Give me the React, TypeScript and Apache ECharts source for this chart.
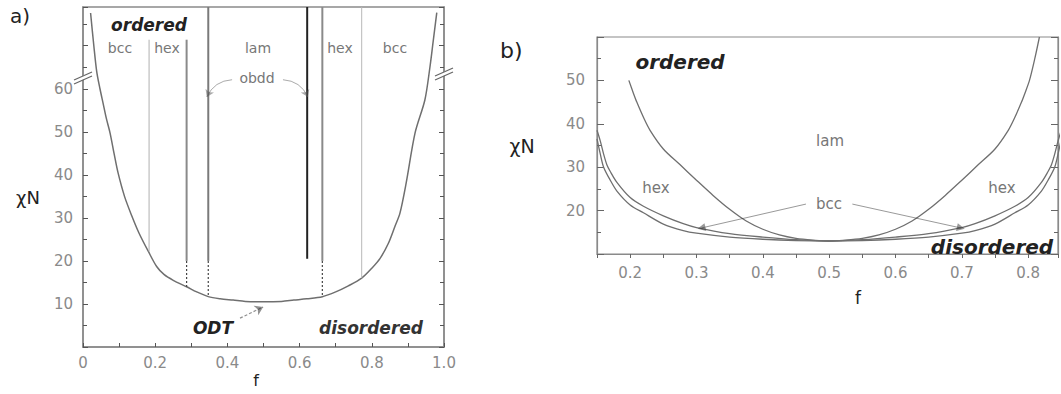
import React, { useEffect, useRef } from "react";
import * as echarts from "echarts";

// ---------- Panel a: mean-field phase diagram ----------
const odtAF = [
  0.021, 0.03, 0.038, 0.047, 0.056, 0.065, 0.075, 0.086, 0.097, 0.115, 0.135, 0.155, 0.181, 0.204,
  0.225, 0.25, 0.287, 0.315, 0.347, 0.38, 0.416, 0.45, 0.5, 0.55, 0.584, 0.62, 0.663, 0.7, 0.735,
  0.772, 0.8, 0.823, 0.846, 0.864, 0.878, 0.895, 0.92, 0.947, 0.961, 0.97, 0.98,
];
const odtAChi = [
  77.6, 70, 64, 60, 56.5, 53, 49.7, 45, 40.5, 35, 30.5, 26.5, 22.2, 18.7, 16.8, 15.5, 14, 12.8, 11.7,
  11.2, 10.9, 10.6, 10.5, 10.6, 10.9, 11.2, 11.7, 12.8, 14.2, 16, 18.3, 20.6, 24.1, 28, 31.1, 38,
  49.8, 57.4, 65, 71, 77.7,
];
// phase boundary verticals: f, top, end of solid part, end of dotted part (curve)
const boundF = [0.183, 0.287, 0.347, 0.621, 0.663, 0.772];
const boundTop = [71.4, 71.4, 79, 79, 79, 79];
const boundSolidEnd = [22.2, 20, 20, 20.5, 20, 16];
const boundCurveChi = [22.2, 14, 11.7, 20.5, 11.7, 16];
const boundColor = ["#b0b0b0", "#8a8a8a", "#7a7a7a", "#222222", "#8a8a8a", "#b8b8b8"];
const boundWidth = [1, 2, 2, 2, 2, 1];

const xTicksA = [0, 0.2, 0.4, 0.6, 0.8, 1.0];
const xTickLabelsA = ["0", "0.2", "0.4", "0.6", "0.8", "1.0"];
const yTickLabelsA = [10, 20, 30, 40, 50, 60];

// obdd arrows (from label to boundary line), ODT arrow
const obddFrom = [[0.413, 62.1], [0.554, 62.1]];
const obddTo = [[0.343, 58.1], [0.623, 58.1]];
const odtArrowFrom = [0.435, 6.7];
const odtArrowTo = [0.499, 9.3];

// ---------- Panel b: fluctuation-corrected phase diagram ----------
const odtBF = [
  0.15, 0.155, 0.16, 0.17, 0.18, 0.2, 0.22, 0.25, 0.28, 0.3, 0.35, 0.4, 0.45, 0.5, 0.55, 0.6, 0.65,
  0.7, 0.72, 0.75, 0.78, 0.8, 0.82, 0.83, 0.84, 0.845, 0.85,
];
const odtBChi = [
  36.5, 33, 30, 27, 24.5, 21.3, 19.5, 16.9, 15.4, 14.8, 13.9, 13.4, 13.1, 13, 13.1, 13.4, 13.9, 14.8,
  15.4, 16.9, 19.5, 21.3, 24.5, 27, 30, 33, 36.5,
];
const bccHexF = [
  0.15, 0.155, 0.16, 0.165, 0.17, 0.18, 0.2, 0.22, 0.25, 0.28, 0.3, 0.35, 0.4, 0.45, 0.5, 0.55, 0.6,
  0.65, 0.7, 0.72, 0.75, 0.78, 0.8, 0.82, 0.83, 0.835, 0.84, 0.845, 0.85,
];
const bccHexChi = [
  38.5, 36, 33, 30.5, 29, 26.5, 23, 21, 18.8, 17, 16.1, 14.7, 13.9, 13.3, 13, 13.3, 13.9, 14.7, 16.1,
  17, 18.8, 21, 23, 26.5, 29, 30.5, 33, 36, 38.5,
];
const hexLamLeftF = [
  0.198, 0.205, 0.21, 0.22, 0.23, 0.25, 0.275, 0.3, 0.325, 0.35, 0.375, 0.4, 0.425, 0.45, 0.475, 0.5,
];
const hexLamLeftChi = [50, 47, 45, 41.5, 38.5, 34.2, 30.6, 27, 23.5, 20.3, 17.6, 15.7, 14.4, 13.6, 13.2, 13];
const hexLamRightF = [
  0.5, 0.525, 0.55, 0.575, 0.6, 0.625, 0.65, 0.675, 0.7, 0.725, 0.75, 0.77, 0.78, 0.79, 0.795, 0.802,
  0.81, 0.817,
];
const hexLamRightChi = [
  13, 13.2, 13.6, 14.4, 15.7, 17.6, 20.3, 23.5, 27, 30.6, 34.2, 38.5, 41.5, 45, 47, 50, 55, 60,
];

const yTickLabelsB = [20, 30, 40, 50];
const bccFrom = [[0.465, 21.5], [0.535, 21.5]];
const bccTo = [[0.3075, 16], [0.6985, 16]];

const FONT = "DejaVu Sans";
const zip = (xs: number[], ys: number[]) => xs.map((x, i) => [x, ys[i]]);

export default function App() {
  const ref = useRef<HTMLDivElement>(null);
  useEffect(() => {
    if (!ref.current) return;
    const chart = echarts.init(ref.current, undefined, { renderer: "svg" });

    const axisLineGray = { lineStyle: { color: "#8a8a8a", width: 1.5 } };
    const labelStyle = { color: "#8a8a8a", fontFamily: FONT, fontSize: 15 };

    const series: any[] = [];
    // panel a ODT curve
    series.push({
      type: "line",
      xAxisIndex: 0,
      yAxisIndex: 0,
      data: zip(odtAF, odtAChi),
      showSymbol: false,
      smooth: 0.3,
      lineStyle: { color: "#6f6f6f", width: 1.5 },
      z: 3,
    });
    boundF.forEach((f, i) => {
      series.push({
        type: "line",
        xAxisIndex: 0,
        yAxisIndex: 0,
        data: [[f, boundTop[i]], [f, boundSolidEnd[i]]],
        showSymbol: false,
        lineStyle: { color: boundColor[i], width: boundWidth[i] },
      });
      if (boundCurveChi[i] < boundSolidEnd[i]) {
        series.push({
          type: "line",
          xAxisIndex: 0,
          yAxisIndex: 0,
          data: [[f, boundSolidEnd[i]], [f, boundCurveChi[i]]],
          showSymbol: false,
          lineStyle: { color: "#444", width: 1.2, type: [2, 2] },
        });
      }
    });
    series.push({
      type: "lines",
      coordinateSystem: "cartesian2d",
      xAxisIndex: 0,
      yAxisIndex: 0,
      symbol: ["none", "arrow"],
      symbolSize: 7,
      lineStyle: { color: "#555", width: 1, curveness: -0.3 },
      data: [{ coords: [obddFrom[0], obddTo[0]] }],
      z: 5,
    });
    series.push({
      type: "lines",
      coordinateSystem: "cartesian2d",
      xAxisIndex: 0,
      yAxisIndex: 0,
      symbol: ["none", "arrow"],
      symbolSize: 7,
      lineStyle: { color: "#555", width: 1, curveness: 0.3 },
      data: [{ coords: [obddFrom[1], obddTo[1]] }],
      z: 5,
    });
    series.push({
      type: "lines",
      coordinateSystem: "cartesian2d",
      xAxisIndex: 0,
      yAxisIndex: 0,
      symbol: ["none", "arrow"],
      symbolSize: 8,
      lineStyle: { color: "#222", width: 1.2, type: [3, 2] },
      data: [{ coords: [odtArrowFrom, odtArrowTo] }],
      z: 5,
    });

    // panel b curves
    const bLine = (xs: number[], ys: number[]) => ({
      type: "line",
      xAxisIndex: 1,
      yAxisIndex: 2,
      data: zip(xs, ys),
      showSymbol: false,
      smooth: 0.3,
      lineStyle: { color: "#6f6f6f", width: 1.3 },
    });
    series.push(bLine(odtBF, odtBChi));
    series.push(bLine(bccHexF, bccHexChi));
    series.push(bLine(hexLamLeftF, hexLamLeftChi));
    series.push(bLine(hexLamRightF, hexLamRightChi));
    series.push({
      type: "lines",
      coordinateSystem: "cartesian2d",
      xAxisIndex: 1,
      yAxisIndex: 2,
      symbol: ["none", "triangle"],
      symbolSize: 8,
      lineStyle: { color: "#333", width: 1 },
      data: bccFrom.map((p, i) => ({ coords: [p, bccTo[i]] })),
      z: 5,
    });

    const txt = (text: string, x: number, y: number, size: number, opts: any = {}) => ({
      type: "text",
      x,
      y,
      z: 100,
      style: {
        text,
        fontFamily: FONT,
        fontSize: size,
        fill: opts.fill || "#777",
        fontWeight: opts.bold ? "bold" : "normal",
        fontStyle: opts.italic ? "italic" : "normal",
        align: opts.align || "center",
        verticalAlign: "middle",
      },
    });

    const brk = (x: number, y: number) => ({
      type: "group",
      z: 100,
      children: [
        {
          type: "polygon",
          z: 100,
          shape: { points: [[x - 6, y + 2.5], [x + 6, y - 3], [x + 6, y + 1], [x - 6, y + 6.5]] },
          style: { fill: "#fff" },
        },
        {
          type: "line",
          z: 101,
          shape: { x1: x - 9, y1: y + 4, x2: x + 9, y2: y - 4 },
          style: { stroke: "#666", lineWidth: 1.2 },
        },
        {
          type: "line",
          z: 101,
          shape: { x1: x - 9, y1: y + 8, x2: x + 9, y2: y },
          style: { stroke: "#666", lineWidth: 1.2 },
        },
      ],
    });

    chart.setOption({
      animation: false,
      backgroundColor: "#fff",
      grid: [
        { left: 83, top: 7, width: 361, height: 340, show: true, borderColor: "#8a8a8a", borderWidth: 1.5 },
        { left: 597, top: 37, width: 462, height: 217, show: true, borderColor: "#8a8a8a", borderWidth: 1.2 },
      ],
      xAxis: [
        {
          gridIndex: 0,
          type: "value",
          min: 0,
          max: 1,
          interval: 0.1,
          axisLine: axisLineGray,
          axisTick: { inside: true, length: 4, lineStyle: { color: "#555" } },
          splitLine: { show: false },
          axisLabel: {
            ...labelStyle,
            margin: 8,
            formatter: (v: number) => {
              const k = xTicksA.findIndex((t) => Math.abs(t - v) < 1e-6);
              return k >= 0 ? xTickLabelsA[k] : "";
            },
          },
        },
        {
          gridIndex: 1,
          type: "value",
          min: 0.15,
          max: 0.845,
          interval: 0.05,
          axisLine: { lineStyle: { color: "#8a8a8a", width: 1.2 } },
          axisTick: { inside: false, length: 4, lineStyle: { color: "#666" } },
          splitLine: { show: false },
          axisLabel: {
            ...labelStyle,
            margin: 11,
            formatter: (v: number) =>
              Math.abs(v * 10 - Math.round(v * 10)) < 1e-6 && v > 0.16 ? v.toFixed(1) : "",
          },
        },
      ],
      yAxis: [
        {
          gridIndex: 0,
          type: "value",
          min: 0,
          max: 79,
          interval: 10,
          position: "left",
          axisLine: axisLineGray,
          axisTick: { inside: true, length: 5, lineStyle: { color: "#555" } },
          minorTick: { show: true, splitNumber: 2, length: 4, lineStyle: { color: "#555" } },
          splitLine: { show: false },
          axisLabel: {
            ...labelStyle,
            margin: 10,
            formatter: (v: number) => (yTickLabelsA.includes(Math.round(v)) && Math.abs(v - Math.round(v)) < 1e-6 ? String(v) : ""),
          },
        },
        {
          gridIndex: 0,
          type: "value",
          min: 0,
          max: 79,
          interval: 10,
          position: "right",
          axisLine: axisLineGray,
          axisTick: { inside: true, length: 5, lineStyle: { color: "#555" } },
          minorTick: { show: true, splitNumber: 2, length: 4, lineStyle: { color: "#555" } },
          splitLine: { show: false },
          axisLabel: { show: false },
        },
        {
          gridIndex: 1,
          type: "value",
          min: 10,
          max: 60,
          interval: 10,
          position: "left",
          axisLine: { lineStyle: { color: "#8a8a8a", width: 1.2 } },
          axisTick: { inside: true, length: 7, lineStyle: { color: "#666" } },
          minorTick: { show: true, splitNumber: 2, length: 4, lineStyle: { color: "#666" } },
          splitLine: { show: false },
          axisLabel: {
            ...labelStyle,
            margin: 12,
            formatter: (v: number) => (yTickLabelsB.includes(v) ? String(v) : ""),
          },
        },
        {
          gridIndex: 1,
          type: "value",
          min: 10,
          max: 60,
          interval: 10,
          position: "right",
          axisLine: { lineStyle: { color: "#8a8a8a", width: 1.2 } },
          axisTick: { inside: true, length: 7, lineStyle: { color: "#666" } },
          minorTick: { show: true, splitNumber: 2, length: 4, lineStyle: { color: "#666" } },
          splitLine: { show: false },
          axisLabel: { show: false },
        },
      ],
      series,
      graphic: [
        // panel a
        txt("a)", 10, 16, 20, { fill: "#222", align: "left" }),
        txt("ordered", 149, 25, 17, { fill: "#222", bold: true, italic: true }),
        txt("bcc", 120, 48, 14),
        txt("hex", 167, 48, 14),
        txt("lam", 258, 48, 14),
        txt("hex", 340, 48, 14),
        txt("bcc", 395, 48, 14),
        txt("obdd", 257, 78, 14),
        txt("ODT", 213, 328, 17, { fill: "#222", bold: true, italic: true }),
        txt("disordered", 371, 328, 17, { fill: "#333", bold: true, italic: true }),
        txt("χN", 28, 197, 18, { fill: "#222" }),
        txt("f", 256, 380, 16, { fill: "#222" }),
        brk(83, 76),
        brk(444, 72),
        // panel b
        txt("b)", 500, 50, 22, { fill: "#222", align: "left" }),
        txt("ordered", 680, 62, 20, { fill: "#222", bold: true, italic: true }),
        txt("lam", 830, 141, 15),
        txt("hex", 656, 188, 15),
        txt("hex", 1002, 188, 15),
        txt("bcc", 829, 204, 15),
        txt("disordered", 992, 247, 20, { fill: "#222", bold: true, italic: true }),
        txt("χN", 522, 146, 19, { fill: "#222" }),
        txt("f", 858, 298, 17, { fill: "#222" }),
      ],
    });
    return () => chart.dispose();
  }, []);
  return (
    <div
      ref={ref}
      style={{ position: "fixed", left: 0, top: 0, width: 1061, height: 394, background: "#fff" }}
    />
  );
}
